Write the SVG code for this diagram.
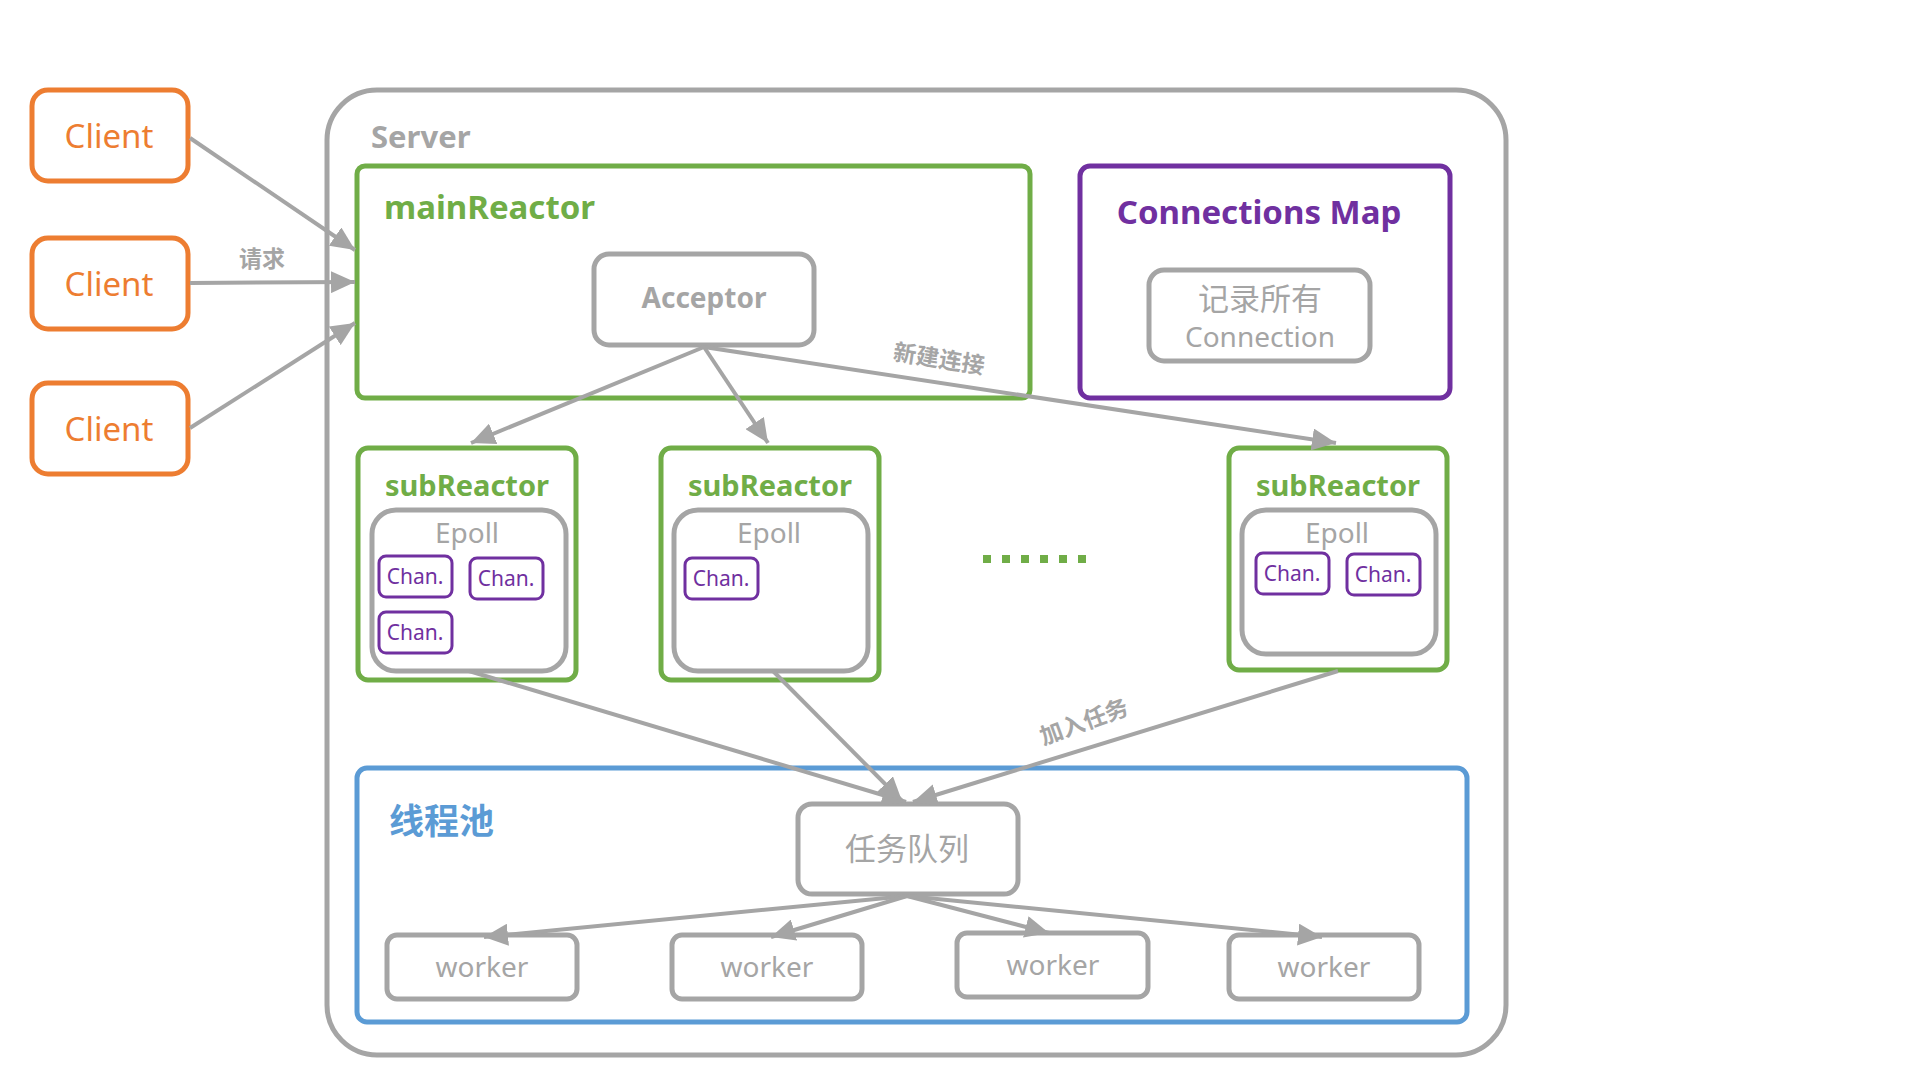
<svg xmlns="http://www.w3.org/2000/svg" width="1920" height="1080" viewBox="0 0 1920 1080">
<style>
text{font-family:"Noto Sans","Noto Sans CJK SC",sans-serif;}
.client rect{fill:#fff;stroke:#ED7D31;stroke-width:5}
.client text{fill:#ED7D31;font-size:33px;text-anchor:middle}
.gbox{fill:#fff;stroke:#A5A5A5;stroke-width:5}
.gtext{fill:#A5A5A5;font-size:28px;text-anchor:middle}
.green{fill:none;stroke:#70AD47;stroke-width:5}
.gtitle{fill:#70AD47;font-size:29px;font-weight:bold}
.chan rect{fill:#fff;stroke:#7030A0;stroke-width:3}
.chan text{fill:#7030A0;font-size:21px;text-anchor:middle}
.edge{stroke:#A5A5A5;stroke-width:4;fill:none;marker-end:url(#ah)}
.elabel{fill:#A5A5A5;font-size:23px;font-weight:bold;text-anchor:middle}
</style>
<defs>
<marker id="ah" markerUnits="userSpaceOnUse" markerWidth="26" markerHeight="22" refX="24" refY="11" orient="auto">
<path d="M0,0 L24,11 L0,22 z" fill="#A5A5A5"/>
</marker>
</defs>
<rect width="1920" height="1080" fill="#fff"/>

<g id="server">
<rect x="327" y="90" width="1179" height="965" rx="50" fill="none" stroke="#A5A5A5" stroke-width="5"/>
<text x="371" y="148" fill="#A5A5A5" font-size="31" font-weight="bold">Server</text>
</g>

<g id="mainReactor">
<rect x="357" y="166" width="673" height="232" rx="8" class="green"/>
<text x="384" y="219" class="gtitle" style="font-size:33px">mainReactor</text>
</g>

<g id="acceptor">
<rect x="594" y="254" width="220" height="91" rx="15" class="gbox"/>
<text x="704" y="308" class="gtext" font-weight="bold">Acceptor</text>
</g>

<g id="connectionsMap">
<rect x="1080" y="166" width="370" height="232" rx="10" fill="none" stroke="#7030A0" stroke-width="5"/>
<text x="1259" y="224" fill="#7030A0" font-size="33" font-weight="bold" text-anchor="middle">Connections Map</text>
</g>

<g id="recordAll">
<rect x="1149" y="270" width="221" height="91" rx="15" class="gbox"/>
<text x="1260" y="310" class="gtext" style="font-size:31px">记录所有</text>
<text x="1260" y="347" class="gtext">Connection</text>
</g>

<g id="client1" class="client">
<rect x="32" y="90" width="156" height="91" rx="16"/>
<text x="109" y="148">Client</text>
</g>
<g id="client2" class="client">
<rect x="32" y="238" width="156" height="91" rx="16"/>
<text x="109" y="296">Client</text>
</g>
<g id="client3" class="client">
<rect x="32" y="383" width="156" height="91" rx="16"/>
<text x="109" y="441">Client</text>
</g>

<g id="subReactor1">
<rect x="358" y="448" width="218" height="232" rx="10" class="green"/>
<text x="467" y="496" class="gtitle" text-anchor="middle">subReactor</text>
<rect x="372" y="510" width="194" height="161" rx="24" class="gbox"/>
<text x="467" y="543" class="gtext">Epoll</text>
<g class="chan"><rect x="379" y="556" width="73" height="41" rx="7"/><text x="415" y="584">Chan.</text></g>
<g class="chan"><rect x="470" y="558" width="73" height="41" rx="7"/><text x="506" y="586">Chan.</text></g>
<g class="chan"><rect x="379" y="612" width="73" height="41" rx="7"/><text x="415" y="640">Chan.</text></g>
</g>

<g id="subReactor2">
<rect x="661" y="448" width="218" height="232" rx="10" class="green"/>
<text x="770" y="496" class="gtitle" text-anchor="middle">subReactor</text>
<rect x="674" y="510" width="194" height="161" rx="24" class="gbox"/>
<text x="769" y="543" class="gtext">Epoll</text>
<g class="chan"><rect x="685" y="558" width="73" height="41" rx="7"/><text x="721" y="586">Chan.</text></g>
</g>

<g id="subReactor3">
<rect x="1229" y="448" width="218" height="222" rx="10" class="green"/>
<text x="1338" y="496" class="gtitle" text-anchor="middle">subReactor</text>
<rect x="1242" y="510" width="194" height="144" rx="24" class="gbox"/>
<text x="1337" y="543" class="gtext">Epoll</text>
<g class="chan"><rect x="1256" y="553" width="73" height="41" rx="7"/><text x="1292" y="581">Chan.</text></g>
<g class="chan"><rect x="1347" y="554" width="73" height="41" rx="7"/><text x="1383" y="582">Chan.</text></g>
</g>

<g id="ellipsis" fill="#70AD47">
<rect x="983" y="555" width="8" height="8"/>
<rect x="1002" y="555" width="8" height="8"/>
<rect x="1021" y="555" width="8" height="8"/>
<rect x="1040" y="555" width="8" height="8"/>
<rect x="1059" y="555" width="8" height="8"/>
<rect x="1078" y="555" width="8" height="8"/>
</g>

<g id="threadPool">
<rect x="357" y="768" width="1110" height="254" rx="10" fill="none" stroke="#5B9BD5" stroke-width="5"/>
<text x="389" y="834" fill="#5B9BD5" font-size="35" font-weight="bold">线程池</text>
</g>

<g id="taskQueue">
<rect x="798" y="804" width="220" height="90" rx="14" class="gbox"/>
<text x="907" y="860" class="gtext" style="font-size:31px">任务队列</text>
</g>

<g id="worker1"><rect x="387" y="935" width="190" height="64" rx="10" class="gbox"/><text x="482" y="977" class="gtext">worker</text></g>
<g id="worker2"><rect x="672" y="935" width="190" height="64" rx="10" class="gbox"/><text x="767" y="977" class="gtext">worker</text></g>
<g id="worker3"><rect x="957" y="933" width="191" height="64" rx="10" class="gbox"/><text x="1053" y="975" class="gtext">worker</text></g>
<g id="worker4"><rect x="1229" y="935" width="190" height="64" rx="10" class="gbox"/><text x="1324" y="977" class="gtext">worker</text></g>

<g id="connectors">
<line x1="190" y1="138" x2="355" y2="250" class="edge"/>
<line x1="190" y1="283" x2="355" y2="282" class="edge"/>
<line x1="190" y1="428" x2="355" y2="323" class="edge"/>
<text x="262" y="267" class="elabel">请求</text>

<line x1="704" y1="347" x2="471" y2="443" class="edge"/>
<line x1="704" y1="347" x2="768" y2="443" class="edge"/>
<line x1="704" y1="347" x2="1336" y2="443" class="edge"/>
<text x="939" y="367" class="elabel" transform="rotate(9 939 359)">新建连接</text>

<line x1="469" y1="671" x2="906" y2="802" class="edge"/>
<line x1="773" y1="671" x2="902" y2="801" class="edge"/>
<line x1="1338" y1="671" x2="913" y2="802" class="edge"/>
<text x="1084" y="730" class="elabel" transform="rotate(-20 1084 722)">加入任务</text>

<line x1="907" y1="896" x2="484" y2="937" class="edge"/>
<line x1="907" y1="896" x2="771" y2="937" class="edge"/>
<line x1="907" y1="896" x2="1049" y2="933" class="edge"/>
<line x1="907" y1="896" x2="1322" y2="937" class="edge"/>
</g>
</svg>
